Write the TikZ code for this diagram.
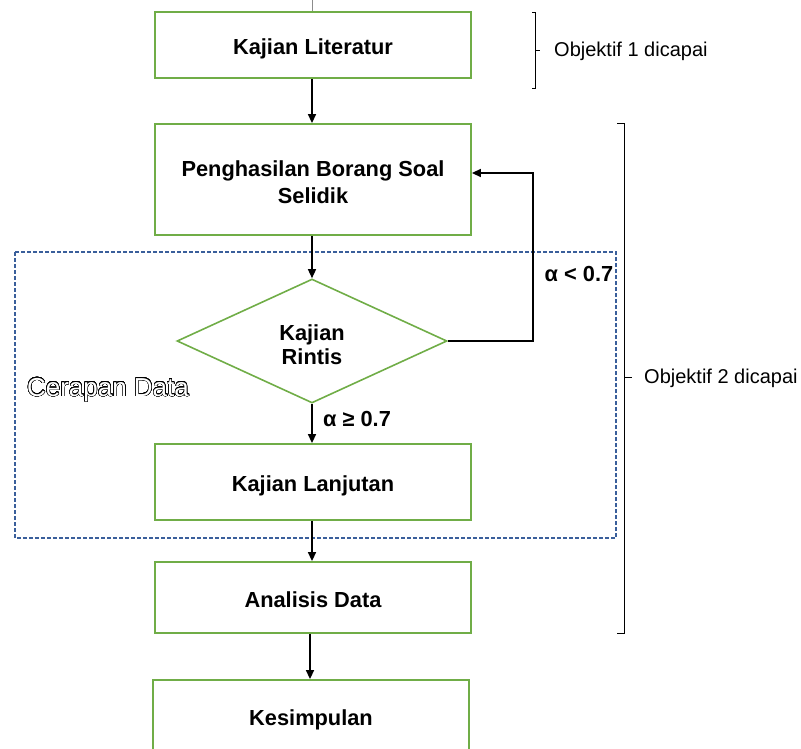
\documentclass[tikz,border=0pt]{standalone}
\usepackage{fontspec}
\setmainfont{Liberation Sans}
\usepackage{contour}
\contourlength{0.45pt}
\contournumber{32}
\usetikzlibrary{shapes.geometric,arrows.meta}
\definecolor{boxgreen}{HTML}{70AD47}
\definecolor{dashblue}{HTML}{3A5F9B}
\begin{document}
\begin{tikzpicture}[x=1pt,y=-1pt,
  boxtxt/.style={font=\fontsize{21.8}{27}\selectfont\bfseries, align=center, inner sep=0pt},
  box/.style={draw=boxgreen, line width=1.8pt, minimum width=316pt, inner sep=0pt, align=center, font=\fontsize{21.8}{27}\selectfont\bfseries, text height=19.6pt, text depth=0pt},
  frame/.style={draw=boxgreen, line width=1.8pt, minimum width=316pt, inner sep=0pt},
  dec/.style={draw=boxgreen, line width=1.6pt, diamond, minimum width=270pt, minimum height=124pt, inner sep=0pt},
  arr/.style={line width=1.4pt, -{Triangle[length=9pt,width=8pt]}},
  lbl/.style={inner sep=0pt, font=\fontsize{21.8}{25}\selectfont\bfseries},
  obj/.style={inner sep=0pt, anchor=west, font=\fontsize{20}{24}\selectfont},
  brk/.style={line width=1pt}]
\useasboundingbox (0,0) rectangle (801,749);

% stub line at top
\draw[line width=0.5pt, black!45] (312,0) -- (312,12);

% dashed region
\draw[draw=dashblue, line width=1.5pt, dash pattern=on 4pt off 2pt] (15,252) rectangle (616,538);
\node[inner sep=0pt] (cer) at (108,390) {\fontsize{26}{30}\selectfont\contour{black}{\textcolor{white}{Cerapan Data}}};

% nodes
\node[box, minimum height=66pt] (lit) at (313,45) {Kajian Literatur};
\node[frame, minimum height=111pt] (pen) at (313,179.5) {};
\node[boxtxt] (pent) at (313,182) {Penghasilan Borang Soal\\Selidik};
\node[dec] (rin) at (312,341) {};
\node[boxtxt, font=\fontsize{21.8}{24}\selectfont\bfseries] (rint) at (312,344.5) {Kajian\\Rintis};
\node[box, minimum height=76pt] (lan) at (313,482) {Kajian Lanjutan};
\node[box, minimum height=71pt] (ana) at (313,597.5) {Analisis Data};
\node[box, minimum height=76pt, text height=15.6pt] (kes) at (311,718) {Kesimpulan};

% connectors
\draw[arr] (lit.south -| 312,0) -- (pen.north -| 312,0);
\draw[arr] (pen.south -| rin.north) -- (rin.north);
\draw[arr] (rin.south) -- (lan.north -| rin.south);
\draw[arr] (lan.south -| rin.south) -- (ana.north -| rin.south);
\draw[arr] (ana.south -| 310,0) -- (kes.north -| 310,0);
\coordinate (fbc) at (533,173);
\draw[arr] (rin.east) -| (fbc) -- (pen.east |- fbc);

% labels
\node[lbl] (lt) at (579,274) {α < 0.7};
\node[lbl] (ge) at (357,419) {α ≥ 0.7};

% brackets
\draw[brk] (532,13) -- (535,13) -- (535,89) -- (532,89);
\draw[brk] (535,51) -- (540,51);
\node[obj] (o1) at (554,51) {Objektif 1 dicapai};
\draw[brk] (617,124) -- (624,124) -- (624,633) -- (617,633);
\draw[brk] (624,377) -- (632,377);
\node[obj] (o2) at (644,378) {Objektif 2 dicapai};
\end{tikzpicture}
\end{document}
